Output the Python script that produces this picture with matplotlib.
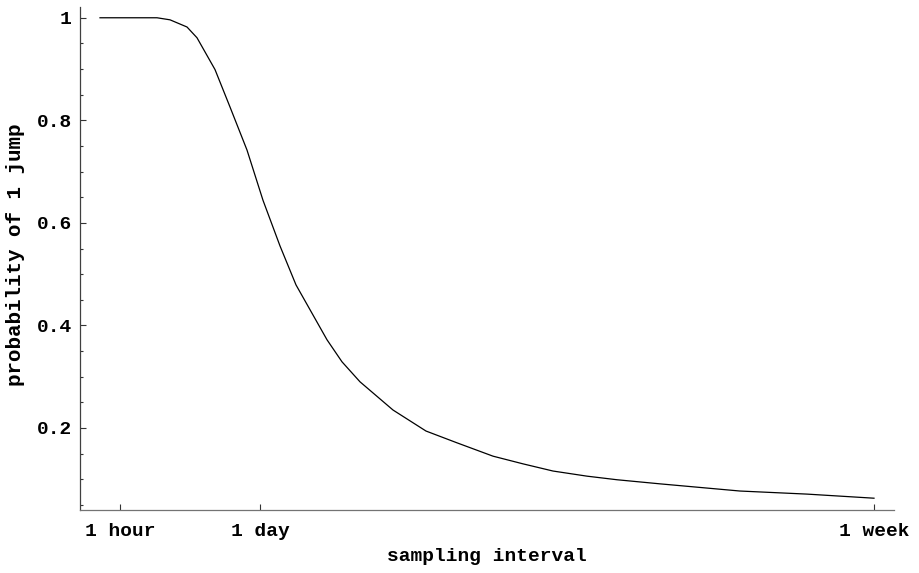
import matplotlib.pyplot as plt
from matplotlib.ticker import MultipleLocator

# x in arbitrary axis units (1 hour at 1, 1 day at 4.5, 1 week at 19.85)
interval = [0.5, 1.925, 2.25, 2.675, 2.925, 3.375, 3.75, 4.175, 4.575, 5.0,
            5.4, 6.175, 6.55, 7.0, 7.825, 8.65, 9.425, 10.325, 11.075, 11.825,
            12.675, 13.425, 14.5, 16.5, 18.175, 19.85]
prob_one_jump = [1.0, 1.0, 0.996, 0.982, 0.961, 0.899, 0.826, 0.742, 0.644, 0.555,
                 0.479, 0.372, 0.329, 0.290, 0.235, 0.194, 0.171, 0.145, 0.130, 0.116,
                 0.106, 0.099, 0.091, 0.077, 0.071, 0.063]

xtick_pos = [1, 4.5, 19.85]
xtick_labels = ['1 hour', '1 day', '1 week']
ytick_pos = [0.2, 0.4, 0.6, 0.8, 1.0]
ytick_labels = ['0.2', '0.4', '0.6', '0.8', '1']

plt.rcParams['font.family'] = ['Liberation Mono', 'DejaVu Sans Mono']
plt.rcParams['font.weight'] = 'bold'

fig = plt.figure(figsize=(9.19, 5.73), dpi=100)
ax = fig.add_axes([80/919, 63/573, 814/919, 503/573])

ax.plot(interval, prob_one_jump, color='black', linewidth=0.9)

ax.set_xlim(0, 20.35)
ax.set_ylim(0.04, 1.021)

for side in ['top', 'right']:
    ax.spines[side].set_visible(False)
ax.spines['left'].set_color('0.25')
ax.spines['bottom'].set_color('0.45')
ax.spines['left'].set_linewidth(0.9)
ax.spines['bottom'].set_linewidth(0.9)

ax.set_xticks(xtick_pos)
ax.set_xticklabels(xtick_labels, fontsize=14, fontweight='bold')
ax.set_yticks(ytick_pos)
ax.set_yticklabels(ytick_labels, fontsize=14, fontweight='bold')
ax.yaxis.set_minor_locator(MultipleLocator(0.05))

ax.tick_params(axis='y', which='major', direction='in', length=4.5, width=0.8,
               color='0.2', pad=6)
ax.tick_params(axis='y', which='minor', direction='in', length=2.5, width=0.8,
               color='0.2')
ax.tick_params(axis='x', which='major', direction='in', length=4, width=0.8,
               color='0.2', pad=9)

ax.set_xlabel('sampling interval', fontsize=14, fontweight='bold', labelpad=6)
ax.set_ylabel('probability of 1 jump', fontsize=15, fontweight='bold')
ax.yaxis.set_label_coords(-0.068, 0.508)

fig.savefig('out.png', dpi=100)
